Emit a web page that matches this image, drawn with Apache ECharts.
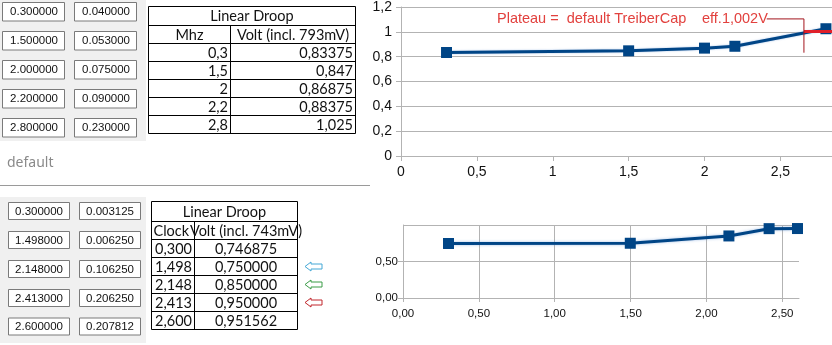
<!DOCTYPE html>
<html><head><meta charset="utf-8">
<script src="https://cdn.jsdelivr.net/npm/echarts@6/dist/echarts.min.js"></script>
<style>html,body{margin:0;padding:0;background:#fff}#c{width:832px;height:345px}</style>
</head><body><div id="c"></div>
<script>
// ---- data ----
const topClock = [0.3, 1.5, 2, 2.2, 2.8];
const topVolt = [0.83375, 0.847, 0.86875, 0.88375, 1.025];
const plateauClock = [2.655, 2.84];
const plateauVolt = [1.002, 1.002];
const leaderClock = [2.41, 2.655, 2.655];
const leaderVolt = [1.104, 1.104, 0.832];
const botClock = [0.300, 1.498, 2.148, 2.413, 2.600];
const botVolt = [0.746875, 0.750000, 0.850000, 0.950000, 0.951562];
const botGridX = [0.5, 1.0, 1.5, 2.0, 2.5];

const topBoxA = ['0.300000','1.500000','2.000000','2.200000','2.800000'];
const topBoxB = ['0.040000','0.053000','0.075000','0.090000','0.230000'];
const botBoxA = ['0.300000','1.498000','2.148000','2.413000','2.600000'];
const botBoxB = ['0.003125','0.006250','0.106250','0.206250','0.207812'];

const topTableTitle = 'Linear Droop';
const topTableHead = ['Mhz', 'Volt (incl. 793mV)'];
const topTableClock = ['0,3','1,5','2','2,2','2,8'];
const topTableVolt = ['0,83375','0,847','0,86875','0,88375','1,025'];
const botTableTitle = 'Linear Droop';
const botTableHead = ['Clock', 'Volt (incl. 743mV)'];
const botTableClock = ['0,300','1,498','2,148','2,413','2,600'];
const botTableVolt = ['0,746875','0,750000','0,850000','0,950000','0,951562'];

const annotationMain = 'Plateau =  default TreiberCap';
const annotationEff = 'eff.1,002V';
const noteText = 'default';

// ---- build ----
const zip = (a, b) => a.map((v, i) => [v, b[i]]);
const G = [];
const TFONT = 'Lato, "Liberation Sans", sans-serif';
const BFONT = '"Liberation Sans", sans-serif';

function rect(x, y, w, h, fill, stroke, lw) {
  G.push({type: 'rect', shape: {x, y, width: w, height: h}, style: {fill: fill || 'none', stroke: stroke || null, lineWidth: lw || 1}, silent: true});
}
function line(x1, y1, x2, y2, stroke, lw) {
  G.push({type: 'line', shape: {x1, y1, x2, y2}, style: {stroke, lineWidth: lw || 1}, silent: true});
}
function text(t, x, y, size, align, fill, family, sx) {
  G.push({type: 'text', x, y, scaleX: sx || 1, style: {text: t, font: size + 'px ' + family, fill: fill || '#000', align: align || 'left', verticalAlign: 'middle'}, silent: true});
}

// input panels
function panel(py, ph, colX, colW, rowTops, bh, A, B) {
  rect(0, py, 146, ph, '#f0f0f0');
  rowTops.forEach((t, i) => {
    rect(colX[0] + 0.5, t + 0.5, colW[0], bh, '#fff', '#7a7a7a', 1);
    rect(colX[1] + 0.5, t + 0.5, colW[1], bh, '#fff', '#7a7a7a', 1);
    text(A[i], colX[0] + colW[0] - 6, t + bh / 2 + 1, 11.5, 'right', '#111', BFONT);
    text(B[i], colX[1] + colW[1] - 6, t + bh / 2 + 1, 11.5, 'right', '#111', BFONT);
  });
}
panel(0, 141, [2, 74], [62, 62], [2, 31, 60, 89, 118], 18.5, topBoxA, topBoxB);
panel(197, 146, [8, 79], [61, 61], [202, 231, 260, 289, 317.5], 17, botBoxA, botBoxB);

text(noteText, 7, 163, 14, 'left', '#8a8a8a', '"Noto Sans", sans-serif');
line(0, 185.5, 370, 185.5, '#9a9a9a', 1);

// tables
function table(L, R, D, ys, title, head, c1, c2, fsize, sx, numAlign2) {
  const n = ys.length;
  for (let i = 0; i < n; i++) line(L, ys[i], R, ys[i], '#000', 1);
  line(L, ys[0], L, ys[n - 1], '#000', 1);
  line(R, ys[0], R, ys[n - 1], '#000', 1);
  line(D, ys[1], D, ys[n - 1], '#000', 1);
  const mid = i => (ys[i] + ys[i + 1]) / 2 + 0.5;
  text(title, (L + R) / 2, mid(0), fsize, 'center', '#111', TFONT, sx);
  if (head[0] === 'Clock') text(head[0], L + 2, mid(1), fsize, 'left', '#111', TFONT, sx);
  else text(head[0], (L + D) / 2, mid(1), fsize, 'center', '#111', TFONT, sx);
  text(head[1], (D + R) / 2, mid(1), fsize, 'center', '#111', TFONT, sx);
  c1.forEach((v, i) => {
    text(v, D - 2.5, mid(i + 2), fsize, 'right', '#111', TFONT, sx);
    if (numAlign2 === 'center') text(c2[i], (D + R) / 2, mid(i + 2), fsize, 'center', '#111', TFONT, sx);
    else text(c2[i], R - 2.5, mid(i + 2), fsize, 'right', '#111', TFONT, sx);
  });
}
table(148.5, 355.5, 230.5, [6.5, 25.5, 43.5, 61.5, 79.5, 97.5, 115.5, 133.5],
  topTableTitle, topTableHead, topTableClock, topTableVolt, 14.5, 1, 'right');
table(151.5, 297.5, 194.5, [201.5, 221.5, 239.5, 257.5, 275.5, 293.5, 311.5, 329.5],
  botTableTitle, botTableHead, botTableClock, botTableVolt, 14.5, 1, 'center');

// arrows
const arrowStroke = ['#45a8d6', '#3b9c47', '#c1272d'];
[266.5, 284.5, 302.5].forEach((y, i) => {
  G.push({type: 'polygon', x: 305, y, silent: true,
    shape: {points: [[0, 0], [6, -4.5], [6, -2.5], [17, -2.5], [17, 2.5], [6, 2.5], [6, 4.5]]},
    style: {fill: '#fff', stroke: arrowStroke[i], lineWidth: 1}});
});

// chart annotations
text(annotationMain, 497, 18.5, 14.5, 'left', '#e2413e', BFONT);
text(annotationEff, 702, 18.5, 14.5, 'left', '#e2413e', BFONT);

const comma1 = v => String(Math.round(v * 10) / 10).replace('.', ',');
const comma2 = v => v.toFixed(2).replace('.', ',');
const AX = '#b3b3b3';
const NAVY = '#004586';
const HALO = 'rgba(90,140,210,0.55)';

const chart = echarts.init(document.getElementById('c'), null, {renderer: 'canvas'});
chart.setOption({
  animation: false,
  backgroundColor: '#fff',
  grid: [
    {left: 401, top: 6, width: 431, height: 150},
    {left: 403, top: 225, width: 396, height: 73}
  ],
  xAxis: [
    {gridIndex: 0, type: 'value', min: 0, max: 2.84, interval: 0.5,
     axisLine: {show: true, lineStyle: {color: AX}}, axisTick: {show: true, length: 5, lineStyle: {color: AX}},
     splitLine: {show: false},
     axisLabel: {showMaxLabel: false, formatter: comma1, color: '#111', fontSize: 14, fontFamily: 'Liberation Sans', margin: 9}},
    {gridIndex: 1, type: 'value', min: 0, max: 2.61, interval: 0.5,
     axisLine: {show: true, lineStyle: {color: AX}}, axisTick: {show: true, length: 4, lineStyle: {color: AX}},
     splitLine: {show: false},
     axisLabel: {showMaxLabel: false, formatter: comma2, color: '#111', fontSize: 11.5, fontFamily: 'Liberation Sans', margin: 10}}
  ],
  yAxis: [
    {gridIndex: 0, type: 'value', min: 0, max: 1.2, interval: 0.2,
     axisLine: {show: true, lineStyle: {color: AX}}, axisTick: {show: true, length: 5, lineStyle: {color: AX}},
     splitLine: {show: true, lineStyle: {color: AX}},
     axisLabel: {formatter: comma1, color: '#111', fontSize: 14, fontFamily: 'Liberation Sans', margin: 9}},
    {gridIndex: 1, type: 'value', min: 0, max: 1, interval: 0.5,
     axisLine: {show: true, lineStyle: {color: AX}}, axisTick: {show: true, length: 5, lineStyle: {color: AX}},
     splitLine: {show: true, lineStyle: {color: AX}},
     axisLabel: {showMaxLabel: false, formatter: comma2, color: '#111', fontSize: 11.5, fontFamily: 'Liberation Sans', margin: 5}}
  ],
  series: [
    {type: 'line', xAxisIndex: 0, yAxisIndex: 0, data: zip(topClock, topVolt), symbol: 'rect', symbolSize: 11,
     lineStyle: {color: NAVY, width: 3, shadowColor: HALO, shadowBlur: 2}, itemStyle: {color: NAVY}, z: 3},
    {type: 'line', xAxisIndex: 0, yAxisIndex: 0, data: zip(plateauClock, plateauVolt), symbol: 'none',
     lineStyle: {color: '#e0202a', width: 3}, z: 4},
    {type: 'line', xAxisIndex: 0, yAxisIndex: 0, data: zip(leaderClock, leaderVolt), symbol: 'none',
     lineStyle: {color: '#a3141c', width: 1}, z: 5},
    {type: 'line', xAxisIndex: 1, yAxisIndex: 1, data: zip(botClock, botVolt), symbol: 'rect', symbolSize: 11,
     lineStyle: {color: NAVY, width: 3, shadowColor: HALO, shadowBlur: 3}, itemStyle: {color: NAVY}, z: 3,
     markLine: {silent: true, symbol: 'none', animation: false, label: {show: false}, z: 1,
       lineStyle: {color: AX, type: 'solid', width: 1},
       emphasis: {disabled: true},
       data: botGridX.map(v => ({xAxis: v}))}}
  ],
  graphic: {elements: G}
});
</script>
</body></html>
